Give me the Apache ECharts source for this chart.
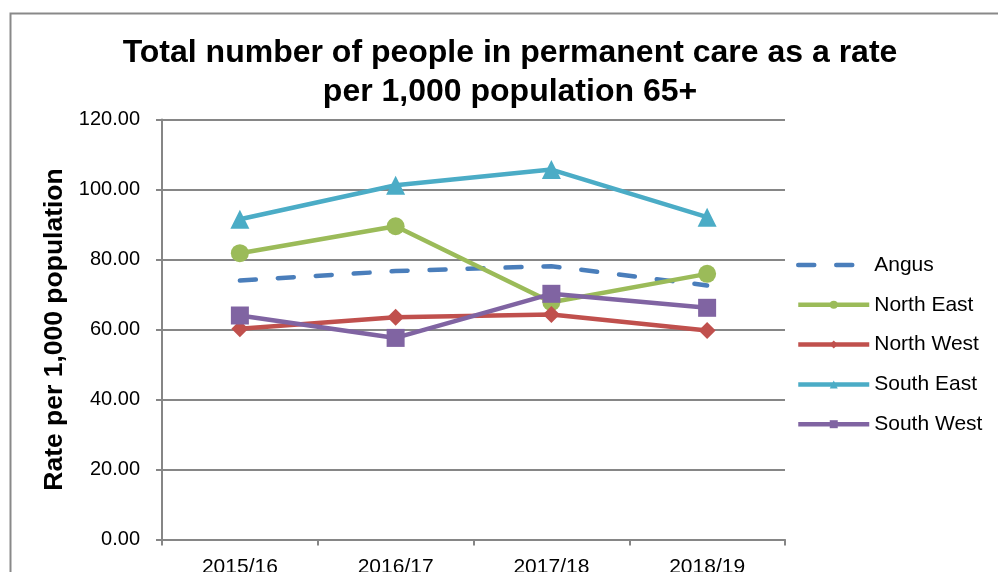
<!DOCTYPE html>
<html>
<head>
<meta charset="utf-8">
<script src="https://cdn.jsdelivr.net/npm/echarts@6/dist/echarts.min.js"></script>
<style>html,body{margin:0;padding:0;background:#fff;}#c{width:998px;height:572px;}</style>
</head>
<body>
<div id="c"></div>
<script>
const categories = ['2015/16', '2016/17', '2017/18', '2018/19'];
const angus = [74.0, 76.7, 78.1, 72.6];
const northEast = [81.8, 89.5, 67.8, 75.9];
const northWest = [60.2, 63.5, 64.3, 59.7];
const southEast = [91.5, 101.2, 105.7, 92.1];
const southWest = [64.0, 57.6, 70.2, 66.2];
const seriesNames = ['Angus', 'North East', 'North West', 'South East', 'South West'];
const yTicks = { min: 0, max: 120, interval: 20 };

const font = 'Liberation Sans, Arial, sans-serif';
const chart = echarts.init(document.getElementById('c'), null, { renderer: 'canvas' });
const lw = 4.5;
function s(name, data, color, symbol, size, extra) {
  return Object.assign({
    name, type: 'line', data,
    symbol, symbolSize: size,
    showAllSymbol: true,
    lineStyle: { color, width: lw },
    itemStyle: { color },
    emphasis: { disabled: true },
    animation: false
  }, extra || {});
}
chart.setOption({
  animation: false,
  backgroundColor: '#fff',
  graphic: [{
    type: 'rect', left: 8, top: 11,
    shape: { x: 0, y: 0, width: 1010, height: 600 },
    style: { fill: 'none', stroke: '#898989', lineWidth: 2 },
    silent: true
  }],
  title: {
    text: 'Total number of people in permanent care as a rate\nper 1,000 population 65+',
    left: 505, textAlign: 'center', top: 29,
    textStyle: { fontFamily: font, fontWeight: 'bold', fontSize: 32, lineHeight: 39, color: '#000' }
  },
  legend: {
    orient: 'vertical', left: 791, top: 249,
    itemWidth: 71, itemHeight: 10, itemGap: 17.8,
    lineStyle: { width: lw },
    textStyle: { fontFamily: font, fontSize: 21, color: '#000', lineHeight: 22 },
    data: seriesNames.map((n, i) => i === 0 ? { name: n, itemStyle: { opacity: 0 } } : { name: n })
  },
  grid: { left: 162, right: 213, top: 119.5, bottom: 32.5, containLabel: false, outerBoundsMode: 'none' },
  xAxis: {
    type: 'category', data: categories, boundaryGap: true,
    axisLine: { lineStyle: { color: '#868686', width: 2 } },
    axisTick: { show: true, length: 6, alignWithLabel: false, lineStyle: { color: '#868686', width: 2 } },
    axisLabel: { fontFamily: font, fontSize: 21, color: '#000', margin: 17 },
    splitLine: { show: false }
  },
  yAxis: {
    type: 'value', min: yTicks.min, max: yTicks.max, interval: yTicks.interval,
    name: 'Rate per 1,000 population', nameLocation: 'middle', nameGap: 87, nameRotate: 90,
    nameTextStyle: { fontFamily: font, fontWeight: 'bold', fontSize: 26.5, color: '#000' },
    axisLine: { show: true, lineStyle: { color: '#868686', width: 2 } },
    axisTick: { show: true, length: 6, lineStyle: { color: '#868686', width: 2 } },
    axisLabel: { fontFamily: font, fontSize: 20, color: '#000', margin: 22, formatter: v => v.toFixed(2) },
    splitLine: { show: true, lineStyle: { color: '#868686', width: 2 } }
  },
  series: [
    s(seriesNames[0], angus, '#4A7EBB', 'none', 0, { lineStyle: { color: '#4A7EBB', width: lw, type: [16, 22], cap: 'round' } }),
    s(seriesNames[1], northEast, '#9BBB59', 'circle', 18),
    s(seriesNames[2], northWest, '#C0504D', 'diamond', 17),
    s(seriesNames[3], southEast, '#4BACC6', 'triangle', 19),
    s(seriesNames[4], southWest, '#8064A2', 'rect', 18)
  ]
});
</script>
</body>
</html>
